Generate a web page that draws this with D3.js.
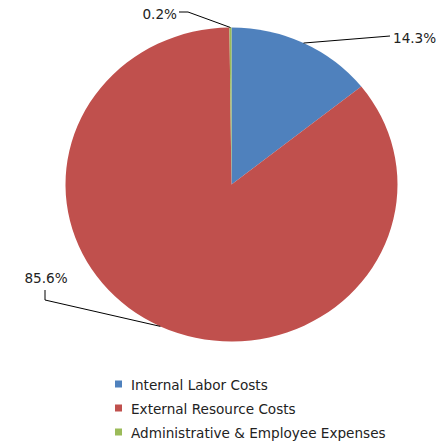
<!DOCTYPE html>
<html>
<head>
<meta charset="utf-8">
<script src="https://cdn.jsdelivr.net/npm/d3@7"></script>
<style>
  html, body { margin: 0; padding: 0; background: #fff; }
  svg { display: block; font-family: "DejaVu Sans", sans-serif; }
</style>
</head>
<body>
<svg id="chart" width="446" height="443"></svg>
<script>
// Cost breakdown shares (percent)
const categories = ["Internal Labor Costs", "External Resource Costs", "Administrative & Employee Expenses"];
const shares = [14.3, 85.6, 0.2];
const labels = ["14.3%", "85.6%", "0.2%"];
const colors = ["#4F81BD", "#C0504D", "#9BBB59"];

// Label layout: elbow point of the leader, end of the leader, text anchor and alignment
const elbows = [[390, 36], [45, 300], [188, 12]];
const leaderEnds = [[390, 36], [45, 290], [179, 12]];
const textPos = [[393, 43], [46, 283], [177, 18.5]];
const textAnchors = ["start", "middle", "end"];

const svg = d3.select("#chart");
const cx = 231.5, cy = 184.5, ry = 157, rx = 166;
const fontSize = 13.6;

const pie = d3.pie().sort(null).value(d => d);
const arcs = pie(shares);
const arc = d3.arc().innerRadius(0).outerRadius(ry);

const g = svg.append("g")
  .attr("transform", `translate(${cx},${cy}) scale(${rx / ry},1)`);

g.selectAll("path")
  .data(arcs)
  .join("path")
  .attr("d", arc)
  .attr("fill", (d, i) => colors[i]);

// Leader lines from the slice edge at its mid-angle
const edgePoint = d => {
  const a = (d.startAngle + d.endAngle) / 2;
  return [cx + rx * Math.sin(a), cy - ry * Math.cos(a)];
};

svg.selectAll("polyline.leader")
  .data(arcs)
  .join("polyline")
  .attr("class", "leader")
  .attr("fill", "none")
  .attr("stroke", "#000")
  .attr("stroke-width", 1)
  .attr("points", (d, i) => [edgePoint(d), elbows[i], leaderEnds[i]].map(p => p.join(",")).join(" "));

svg.selectAll("text.pct")
  .data(arcs)
  .join("text")
  .attr("class", "pct")
  .attr("x", (d, i) => textPos[i][0])
  .attr("y", (d, i) => textPos[i][1])
  .attr("text-anchor", (d, i) => textAnchors[i])
  .attr("font-size", fontSize)
  .attr("fill", "#222")
  .text((d, i) => labels[i]);

// Legend
const legend = svg.append("g").attr("transform", "translate(115,384)");
const item = legend.selectAll("g")
  .data(categories)
  .join("g")
  .attr("transform", (d, i) => `translate(0,${i * 24})`);
item.append("rect")
  .attr("x", 0).attr("y", -3.5)
  .attr("width", 7).attr("height", 7)
  .attr("fill", (d, i) => colors[i]);
item.append("text")
  .attr("x", 16).attr("y", 5.5)
  .attr("font-size", fontSize)
  .attr("fill", "#222")
  .text(d => d);
</script>
</body>
</html>
